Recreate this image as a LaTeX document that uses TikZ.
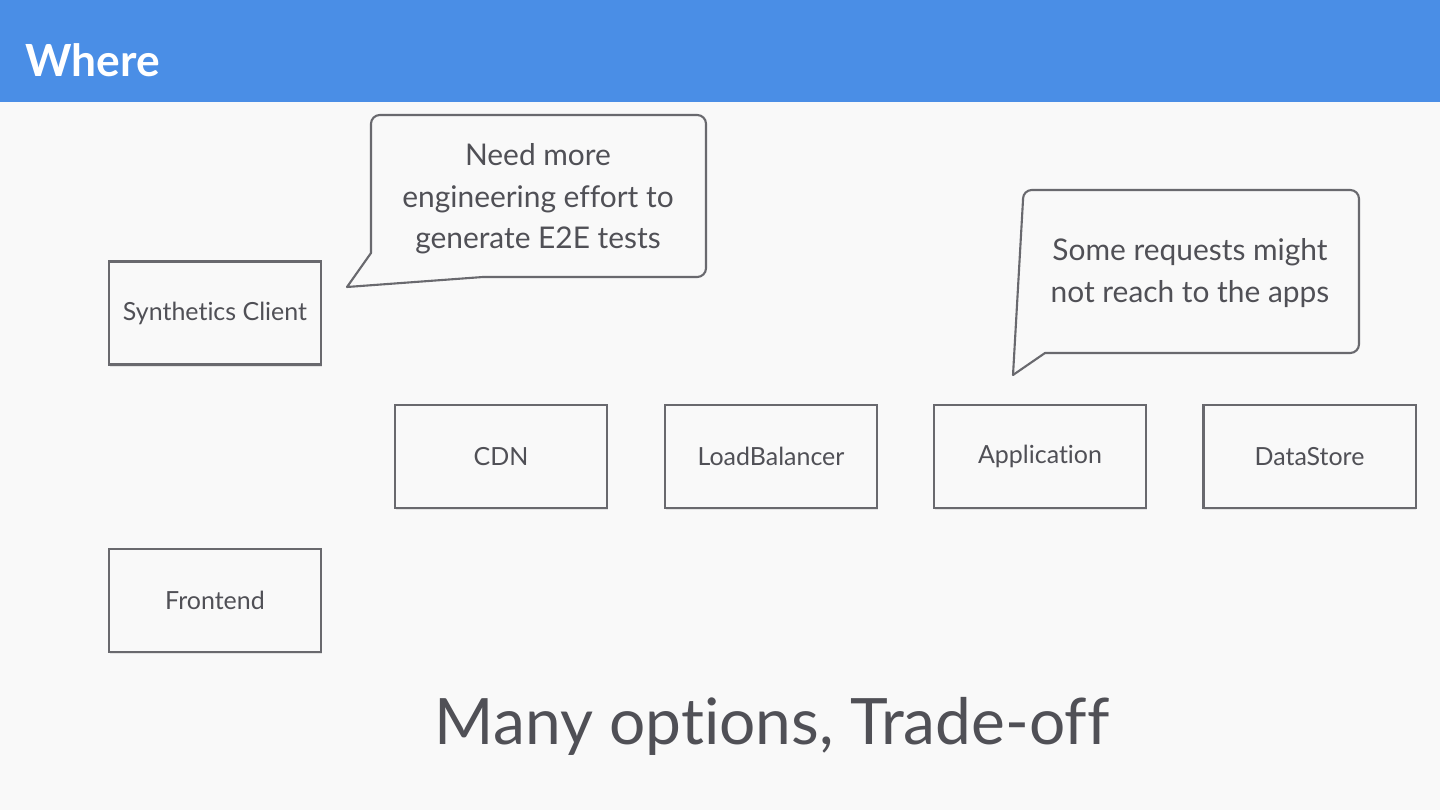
\documentclass[tikz,border=0pt]{standalone}
\usepackage{fontspec}
\setmainfont{Lato}[Ligatures=NoCommon]
\usetikzlibrary{shadows}

\definecolor{barblue}{RGB}{74,142,230}
\definecolor{slidebg}{RGB}{249,249,249}
\definecolor{edgegray}{RGB}{105,105,110}
\definecolor{textgray}{RGB}{80,80,86}

\tikzset{
  component/.style={draw=edgegray, line width=0.6pt, fill=slidebg,
    minimum width=2.12cm, minimum height=1.03cm, inner sep=0pt,
    text=textgray, font=\fontsize{7.1pt}{8.5pt}\selectfont,
    drop shadow={opacity=0.18, shadow xshift=0.2pt, shadow yshift=-0.6pt}},
  bubble/.style={draw=edgegray, line width=0.6pt, fill=slidebg, line join=round},
  bubbletext/.style={align=center, text=textgray,
    font=\fontsize{8.5pt}{11.8pt}\selectfont},
}

\begin{document}
\begin{tikzpicture}[x=0.01cm, y=-0.01cm]
		% page and title bar
		\fill[slidebg] (0,0) rectangle (1440,810);
		\fill[barblue] (0,0) rectangle (1440,102);
		\node[anchor=west, inner sep=0pt, text=white, font=\fontsize{12.6pt}{14pt}\selectfont\bfseries] (title) at (25,60) {Where};
		
		% components
		\node[component] (client) at (215,313) {Synthetics Client};
		\node[component] (frontend) at (215,600.5) {Frontend};
		\node[component] (cdn) at (501,456.5) {CDN};
		\node[component] (lb) at (771,456.5) {LoadBalancer};
		\node[component] (app) at (1040,456.5) {Application};
		\node[component] (store) at (1309.5,456.5) {DataStore};
		
		% callout near the client
		\draw[bubble] (347,287) -- (371,253) {[rounded corners=2.5pt] -- (371,115) -- (706,115) -- (706,277)} -- (483,277) -- cycle;
		\node[bubbletext] (effort) at (538,199) {Need more\\engineering effort to\\generate E2E tests};
		
		% callout near the application
		\draw[bubble] (1013,375) -- (1023,200) {[rounded corners=2.5pt] -- (1023,190) -- (1359,190) -- (1359,353)} -- (1045,353) -- cycle;
		\node[bubbletext] (reach) at (1190,273) {Some requests might\\not reach to the apps};
		
		\node[text=textgray, font=\fontsize{18.2pt}{21pt}\selectfont] (tradeoff) at (772,726) {Many options, Trade-off};
	\end{tikzpicture}
\end{document}
